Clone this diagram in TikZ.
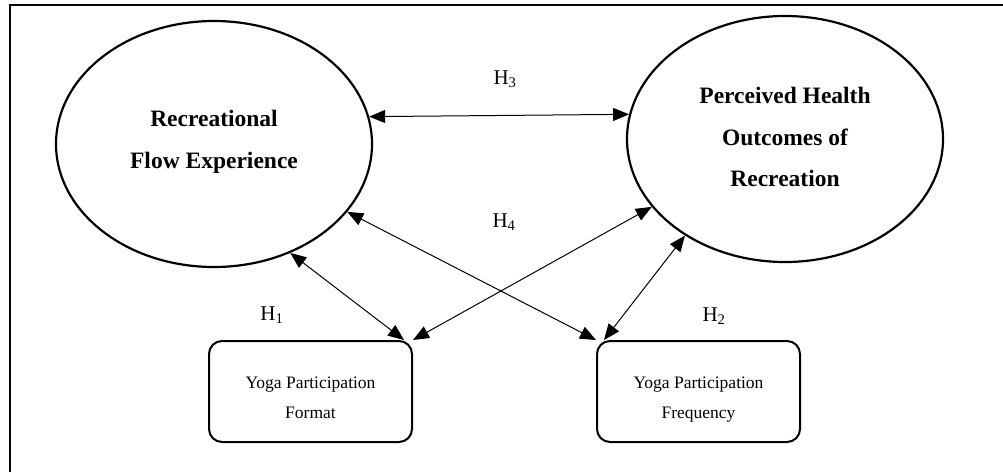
\documentclass[tikz,border=0pt]{standalone}
\usepackage{fontspec}
\setmainfont{Liberation Serif}
\usetikzlibrary{arrows.meta,shapes.geometric}
\tikzset{
  constr/.style={draw, ellipse, line width=2.2pt, minimum width=316pt, minimum height=246pt, inner sep=0pt},
  constrtxt/.style={align=center, inner sep=0pt, font=\fontsize{23.5}{41.5}\selectfont\bfseries},
  yoga/.style={draw, rounded corners=13pt, line width=2pt, minimum width=203pt, minimum height=101pt},
  yogatxt/.style={align=center, inner sep=0pt, font=\fontsize{17.5}{30}\selectfont},
  hyp/.style={anchor=base, inner sep=0pt, font=\fontsize{21}{21}\selectfont},
  rel/.style={{Triangle[length=16pt,width=13pt]}-{Triangle[length=16pt,width=13pt]}, line width=1pt},
}

\begin{document}
\begin{tikzpicture}[x=1pt, y=-1pt]
  \useasboundingbox (0,0) rectangle (1003,472);
  \draw[line width=2pt] (9.5,472) -- (9.5,5) -- (1003,5);
  \node[constr] (flow) at (214,144) {};
  \node[constrtxt] (flowtxt) at (214,142) {Recreational\\Flow Experience};
  \node[constr] (health) at (785,139) {};
  \node[constrtxt] (healthtxt) at (785,137) {Perceived Health\\Outcomes of\\Recreation};
  \node[yoga] (fmt) at (310.5,391.5) {};
  \node[yogatxt] (fmttxt) at (310.5,398) {Yoga Participation\\Format};
  \node[yoga] (frq) at (698.5,391.5) {};
  \node[yogatxt] (frqtxt) at (698.5,400) {Yoga Participation\\Frequency};
  \draw[rel] (flow.10.7) -- (health.171.1);
  \draw[rel] (flow.-55.3) -- ([xshift=-9pt]fmt.north east);
  \draw[rel] (flow.-27.2) -- (frq.north west);
  \draw[rel] (health.207.6) -- (fmt.north east);
  \draw[rel] (health.224.1) -- ([xshift=8pt]frq.north west);
  \node[hyp] (h1) at (272,320) {H\textsubscript{1}};
  \node[hyp] (h2) at (714,321) {H\textsubscript{2}};
  \node[hyp] (h3) at (505,84) {H\textsubscript{3}};
  \node[hyp] (h4) at (504,227) {H\textsubscript{4}};
\end{tikzpicture}
\end{document}
